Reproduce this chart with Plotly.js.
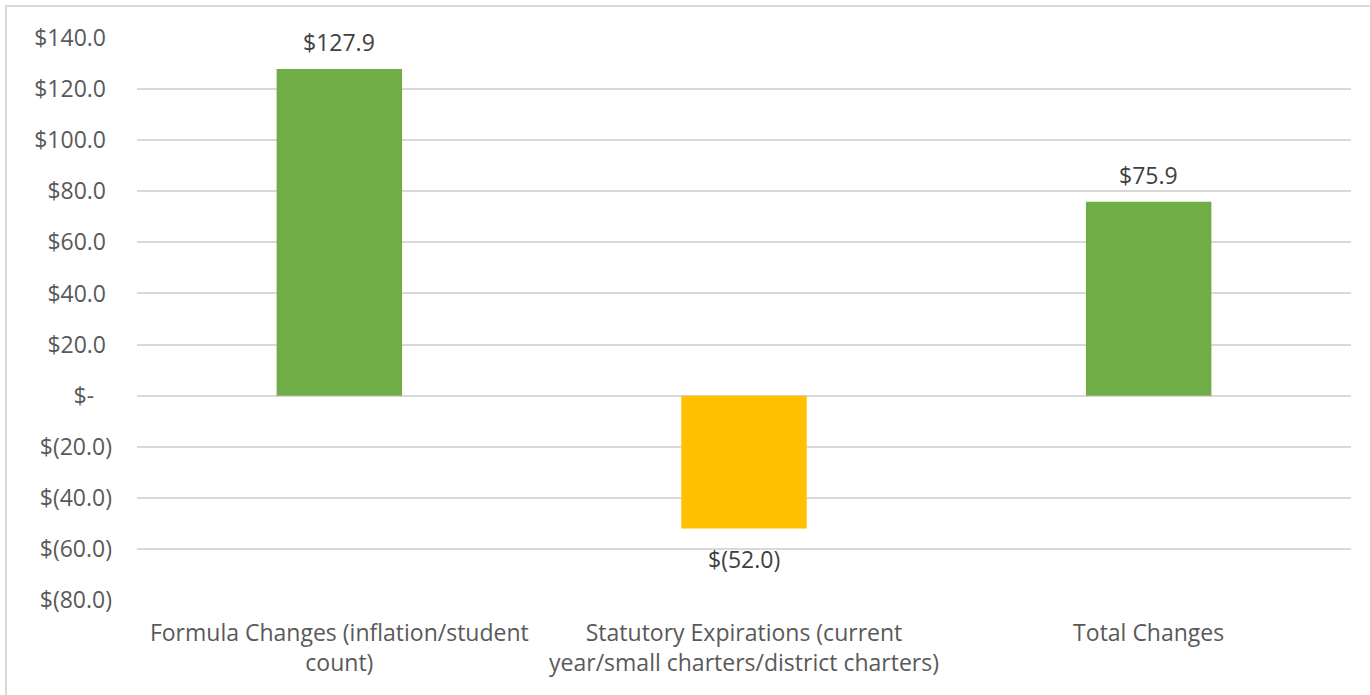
<!DOCTYPE html>
<html>
<head>
<meta charset="utf-8">
<script src="https://cdn.plot.ly/plotly-3.0.1.min.js"></script>
<style>
  html, body { margin: 0; padding: 0; background: #ffffff; }
  #chart { width: 1370px; height: 695px; }
</style>
</head>
<body>
<div id="chart"></div>
<script>
// ---- data ----
const categories = [
  "Formula Changes (inflation/student<br>count)",
  "Statutory Expirations (current<br>year/small charters/district charters)",
  "Total Changes"
];
const values = [127.9, -52.0, 75.9];
const barColors = ["#70AD47", "#FFC000", "#70AD47"];
const tickValues = [140, 120, 100, 80, 60, 40, 20, 0, -20, -40, -60, -80];
const tickLabels = ["$140.0", "$120.0", "$100.0", "$80.0", "$60.0", "$40.0", "$20.0",
                    "$-", "$(20.0)", "$(40.0)", "$(60.0)", "$(80.0)"];
const valueLabels = ["$127.9", "$(52.0)", "$75.9"];

// ---- helpers ----
const NB = "\u00a0";
function padTick(t) {
  if (t === "$-") return t + NB + NB + NB;
  if (t.indexOf("(") >= 0) return t;
  return t + NB;
}

const FONT = "Open Sans, Noto Sans, sans-serif";
const FS = 23;

const trace = {
  type: "bar",
  x: categories,
  y: values,
  marker: { color: barColors, line: { width: 0 } },
  hoverinfo: "skip"
};

const annotations = categories.map((c, i) => ({
  x: c,
  y: values[i],
  xref: "x",
  yref: "y",
  text: valueLabels[i],
  showarrow: false,
  yanchor: "middle",
  yshift: values[i] >= 0 ? 27 : -31,
  font: { family: FONT, size: FS, color: "#404040" }
}));

const layout = {
  width: 1370,
  height: 695,
  margin: { l: 137, r: 19, t: 38, b: 95 },
  paper_bgcolor: "#ffffff",
  plot_bgcolor: "#ffffff",
  showlegend: false,
  bargap: 0.69,
  font: { family: FONT, size: FS, color: "#595959" },
  xaxis: {
    type: "category",
    showgrid: false,
    zeroline: false,
    showline: false,
    ticks: "",
    tickfont: { family: FONT, size: FS, color: "#595959" },
    ticklabelstandoff: 17,
    fixedrange: true
  },
  yaxis: {
    range: [-80, 140],
    tickmode: "array",
    tickvals: tickValues,
    ticktext: tickLabels.map(padTick),
    showgrid: true,
    gridcolor: "#d9d9d9",
    gridwidth: 2,
    zeroline: true,
    zerolinecolor: "#d9d9d9",
    zerolinewidth: 2,
    showline: false,
    ticks: "",
    ticklabelstandoff: 24,
    tickfont: { family: FONT, size: FS, color: "#595959" },
    fixedrange: true
  },
  annotations: annotations,
  shapes: [{
    type: "rect",
    xref: "paper", yref: "paper",
    x0: (6 - 137) / 1214, x1: (1380 - 137) / 1214,
    y0: (600 - 710) / 562, y1: (600 - 6) / 562,
    line: { color: "#d9d9d9", width: 2 },
    fillcolor: "rgba(0,0,0,0)",
    layer: "below"
  }]
};

Plotly.newPlot("chart", [trace], layout, { staticPlot: true, displayModeBar: false });
</script>
</body>
</html>
